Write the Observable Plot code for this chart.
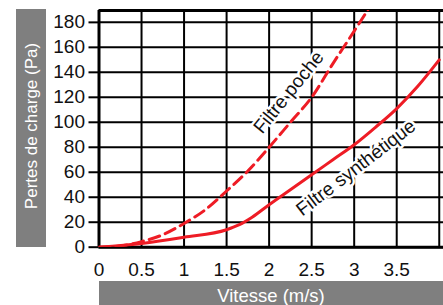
<!DOCTYPE html>
<html><head><meta charset="utf-8">
<script src="https://cdn.jsdelivr.net/npm/d3@7"></script>
<script src="https://cdn.jsdelivr.net/npm/@observablehq/plot@0.6"></script>
<style>
html,body{margin:0;padding:0;background:#fff;}
#chart{width:443px;height:305px;overflow:hidden;}
</style></head><body><div id="chart"></div>
<script>
// Filtre poche (dashed)
const pocheV = [0, 0.25, 0.5, 0.75, 1, 1.25, 1.5, 1.75, 2, 2.25, 2.5, 2.75, 3, 3.17];
const pocheP = [0, 1, 4.5, 10, 19, 30, 45, 61, 80, 100, 120, 147, 173, 191];
// Filtre synthétique (solid)
const synthV = [0, 0.5, 1, 1.5, 1.65, 1.8, 2, 2.25, 2.5, 2.75, 3, 3.25, 3.5, 3.75, 4];
const synthP = [0, 3, 8, 14, 18, 24, 34, 46, 58, 70, 82, 96, 111, 129, 150];

const xTicks = [0, 0.5, 1, 1.5, 2, 2.5, 3, 3.5];
const xGrid = [0.5, 1, 1.5, 2, 2.5, 3, 3.5, 4];
const yTicks = [0, 20, 40, 60, 80, 100, 120, 140, 160, 180];

const labelText = ["Filtre poche", "Filtre synthétique"];
const labelV = [2.23, 3.02];
const labelP = [124, 63.5];
const labelAngle = [-51, -37.5];

const xTitle = "Vitesse (m/s)";
const yTitle = "Pertes de charge (Pa)";

const poche = pocheV.map((v, i) => ({v, p: pocheP[i]}));
const synth = synthV.map((v, i) => ({v, p: synthP[i]}));
const labels = labelText.map((t, i) => ({t, v: labelV[i], p: labelP[i], a: labelAngle[i]}));

const RED = "#ee1c25";
const FONT = "'Liberation Sans', Arial, sans-serif";
const YMAX = 189.5;

const plot = Plot.plot({
  width: 443, height: 305,
  marginLeft: 98.5, marginRight: 0, marginTop: 10, marginBottom: 58.3,
  style: {fontFamily: FONT, fontSize: "18px", color: "#111", background: "#fff"},
  x: {domain: [0, 4.05]},
  y: {domain: [0, YMAX]},
  marks: [
    Plot.gridX(xGrid, {stroke: "#000", strokeOpacity: 1, strokeWidth: 2}),
    Plot.gridY(yTicks, {stroke: "#000", strokeOpacity: 1, strokeWidth: 2}),
    Plot.axisY(yTicks, {tickSize: 10, tickPadding: 4, strokeWidth: 2, stroke: "#000", label: null, fontSize: 19, fill: "#111"}),
    Plot.axisX(xTicks, {tickSize: 0, tickPadding: 15, label: null, fontSize: 19, fill: "#111", tickFormat: d => String(d)}),
    Plot.text(labels, {x: "v", y: "p", text: "t", rotate: "a", fontSize: 19, fill: "#111", stroke: "#fff", strokeWidth: 5, textAnchor: "middle", lineAnchor: "middle"}),
    Plot.ruleX([0], {stroke: "#000", strokeWidth: 3}),
    Plot.ruleY([0, YMAX], {stroke: "#000", strokeWidth: 3}),
    Plot.line(poche, {x: "v", y: "p", stroke: RED, strokeWidth: 3, strokeDasharray: "11,6", curve: "monotone-x", clip: true}),
    Plot.line(synth, {x: "v", y: "p", stroke: RED, strokeWidth: 3, curve: "monotone-x", clip: true})
  ]
});

const svg = d3.select(plot);
// grey title boxes
svg.append("rect").attr("x", 16).attr("y", 9).attr("width", 30).attr("height", 238).attr("fill", "#7f7f7f");
svg.append("text").attr("transform", "translate(31,126) rotate(-90)")
  .attr("text-anchor", "middle").attr("dominant-baseline", "central")
  .attr("fill", "#fff").attr("font-size", 17).attr("font-family", FONT).text(yTitle);
svg.append("rect").attr("x", 99).attr("y", 281).attr("width", 344).attr("height", 30).attr("fill", "#7f7f7f");
svg.append("text").attr("x", 271).attr("y", 301.5)
  .attr("text-anchor", "middle").attr("fill", "#fff").attr("font-size", 18.5).attr("font-family", FONT).text(xTitle);

document.getElementById("chart").appendChild(plot);
</script></body></html>
